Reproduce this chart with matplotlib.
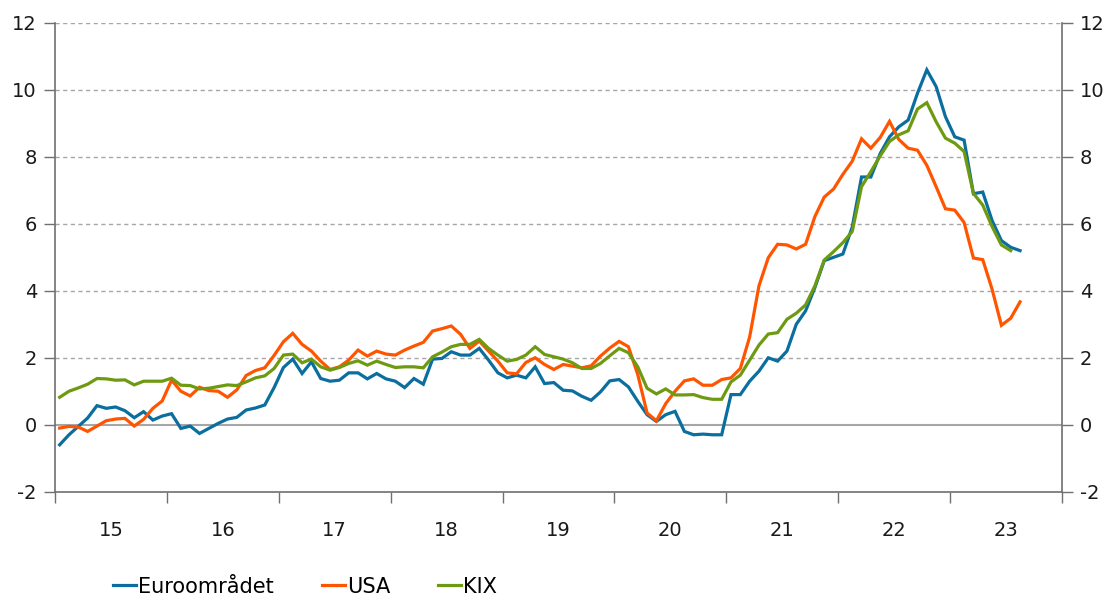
import numpy as np
import matplotlib
matplotlib.use("Agg")
import matplotlib.pyplot as plt

# monthly values, Jan 2015 onwards
euro = [-0.6, -0.3, -0.05, 0.2, 0.57, 0.49, 0.53, 0.42, 0.21, 0.39, 0.14, 0.26,
        0.33, -0.11, -0.04, -0.26, -0.11, 0.04, 0.17, 0.22, 0.44, 0.5, 0.59, 1.11,
        1.71, 1.96, 1.53, 1.88, 1.38, 1.3, 1.33, 1.55, 1.55, 1.37, 1.53, 1.37,
        1.3, 1.11, 1.38, 1.21, 1.96, 1.98, 2.18, 2.08, 2.08, 2.28, 1.93, 1.55,
        1.4, 1.48, 1.4, 1.73, 1.23, 1.26, 1.03, 1.01, 0.85, 0.73, 0.98, 1.31,
        1.35, 1.13, 0.7, 0.3, 0.1, 0.3, 0.4, -0.2, -0.3, -0.28, -0.3, -0.3,
        0.9, 0.9, 1.3, 1.6, 2.0, 1.9, 2.2, 3.0, 3.4, 4.1, 4.9, 5.0,
        5.1, 5.9, 7.4, 7.4, 8.1, 8.6, 8.9, 9.1, 9.9, 10.6, 10.1, 9.2,
        8.6, 8.5, 6.9, 6.95, 6.1, 5.5, 5.3, 5.2]

usa = [-0.1, -0.05, -0.07, -0.2, -0.04, 0.12, 0.17, 0.19, -0.04, 0.16, 0.49, 0.71,
       1.33, 1.0, 0.86, 1.12, 1.02, 1.0, 0.82, 1.04, 1.47, 1.62, 1.7, 2.07,
       2.48, 2.73, 2.4, 2.2, 1.9, 1.65, 1.73, 1.93, 2.23, 2.05, 2.2, 2.11,
       2.08, 2.23, 2.35, 2.46, 2.8, 2.87, 2.95, 2.7, 2.28, 2.5, 2.2, 1.9,
       1.55, 1.52, 1.86, 2.0, 1.8, 1.65, 1.8, 1.75, 1.7, 1.76, 2.05, 2.29,
       2.49, 2.33, 1.5, 0.35, 0.12, 0.63, 1.0, 1.31, 1.37, 1.18, 1.18, 1.35,
       1.4, 1.68, 2.62, 4.15, 4.99, 5.39, 5.37, 5.25, 5.39, 6.22, 6.8, 7.04,
       7.48, 7.87, 8.54, 8.26, 8.58, 9.06, 8.52, 8.26, 8.2, 7.75, 7.11, 6.45,
       6.41, 6.04, 4.98, 4.93, 4.05, 2.97, 3.18, 3.67]

kix = [0.82, 1.0, 1.1, 1.21, 1.38, 1.37, 1.33, 1.34, 1.19, 1.3, 1.3, 1.3,
       1.39, 1.18, 1.17, 1.07, 1.09, 1.14, 1.19, 1.17, 1.28, 1.4, 1.46, 1.68,
       2.08, 2.11, 1.85, 1.96, 1.73, 1.63, 1.71, 1.83, 1.91, 1.78, 1.9, 1.8,
       1.71, 1.73, 1.73, 1.7, 2.03, 2.17, 2.33, 2.4, 2.4, 2.55, 2.28, 2.08,
       1.9, 1.95, 2.08, 2.33, 2.1, 2.03, 1.96, 1.85, 1.68, 1.68, 1.83, 2.06,
       2.28, 2.15, 1.73, 1.09, 0.92, 1.07, 0.89, 0.89, 0.9, 0.81, 0.76, 0.76,
       1.28, 1.48, 1.93, 2.38, 2.71, 2.75, 3.15, 3.33, 3.58, 4.15, 4.92, 5.17,
       5.44, 5.77, 7.11, 7.56, 8.03, 8.46, 8.66, 8.78, 9.43, 9.62, 9.05, 8.56,
       8.41, 8.16, 6.91, 6.56, 5.92, 5.37, 5.2]

years = list(range(2015, 2024))
year_labels = [str(y)[2:] for y in years]

names = ["Euroområdet", "USA", "KIX"]
colors = ["#0A6E9E", "#FF5500", "#6E9A12"]


def month_x(values):
    # middle of each month, in year units
    return 2015 + (np.arange(len(values)) + 0.5) / 12


fig = plt.figure(figsize=(11.11, 5.97), dpi=100)
ax = fig.add_axes([0.0495, 0.1764, 0.9064, 0.7851])

for vals, name, col in zip([euro, usa, kix], names, colors):
    ax.plot(month_x(vals), vals, color=col, lw=2.3, label=name, solid_joinstyle="miter")

ax.set_xlim(2015, 2024)
ax.set_ylim(-2, 12)

# gridlines
for y in range(2, 13, 2):
    ax.axhline(y, color="#a6a6a6", lw=1, ls=(0, (3, 2.5)), zorder=0)
ax.axhline(0, color="#a6a6a6", lw=1.5, zorder=0)

ax.spines["top"].set_visible(False)
for s in ["left", "right", "bottom"]:
    ax.spines[s].set_color("#707070")
    ax.spines[s].set_linewidth(1.2)

yt = list(range(-2, 13, 2))
ax.set_yticks(yt)
ax.set_yticklabels([str(v) for v in yt])
ax.tick_params(axis="y", which="both", direction="out", length=8, width=1, color="#707070",
               labelsize=14, left=True, right=True, labelleft=True, labelright=True, pad=5)

ax.set_xticks(years + [2024])
ax.set_xticklabels([])
ax.set_xticks([y + 0.5 for y in years], minor=True)
ax.set_xticklabels(year_labels, minor=True)
ax.tick_params(axis="x", which="major", direction="out", length=8, width=1, color="#707070")
ax.tick_params(axis="x", which="minor", length=0, labelsize=14, pad=21)

for lab in ax.get_xticklabels(minor=True) + ax.get_yticklabels():
    lab.set_color("#1a1a1a")

fig.legend(loc="lower left", bbox_to_anchor=(0.089, -0.024), ncol=3, frameon=False,
           fontsize=15, handlelength=1.1, handletextpad=0.1, columnspacing=2.3,
           borderaxespad=0.3)

fig.savefig("out.png", dpi=100)
